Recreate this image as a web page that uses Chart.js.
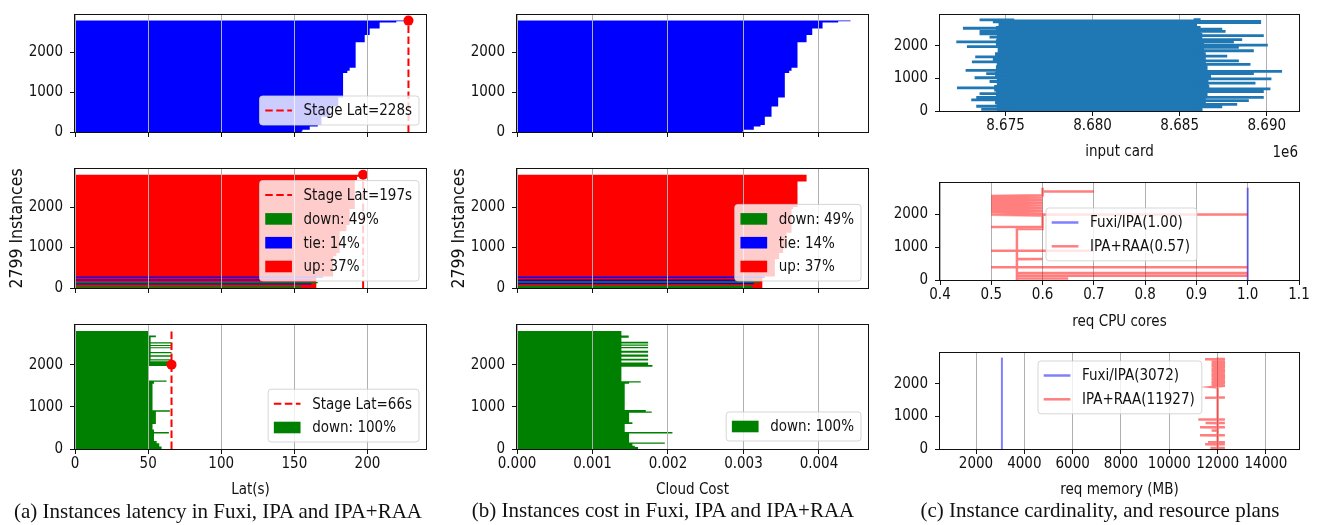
<!DOCTYPE html>
<html>
<head>
<meta charset="utf-8">
<script src="https://cdn.jsdelivr.net/npm/chart.js@4.4.1/dist/chart.umd.min.js"></script>
<style>
  body { margin: 0; background: #fff; width: 1321px; height: 525px; position: relative; overflow: hidden; }
  canvas { position: absolute; }
  .txt { position: absolute; white-space: nowrap; color: #111; transform: translate(-50%, -50%); }
  .cap { font-family: "Liberation Serif", serif; font-size: 21px; }
  .off { font-family: "DejaVu Sans Condensed", "DejaVu Sans", sans-serif; font-size: 15px; transform: translate(-100%, -50%); }
</style>
</head>
<body>
<canvas id="a1"></canvas><canvas id="a2"></canvas><canvas id="a3"></canvas>
<canvas id="b1"></canvas><canvas id="b2"></canvas><canvas id="b3"></canvas>
<canvas id="c1"></canvas><canvas id="c2"></canvas><canvas id="c3"></canvas>
<div class="txt cap" style="left:218px;top:511px">(a) Instances latency in Fuxi, IPA and IPA+RAA</div>
<div class="txt cap" style="left:663px;top:510px">(b) Instances cost in Fuxi, IPA and IPA+RAA</div>
<div class="txt cap" style="left:1100px;top:510px">(c) Instance cardinality, and resource plans</div>
<div class="txt off" style="left:1298px;top:152px">1e6</div>
<script>
// ---- data ----
const N = 2799;            // number of instances
const yTicks = [0, 1000, 2000];
const latTicks = [0, 50, 100, 150, 200];
const costTicks = [0, 0.001, 0.002, 0.003, 0.004];
const cardTicks = [8675000, 8680000, 8685000, 8690000];
const cpuTicks = [0.4, 0.5, 0.6, 0.7, 0.8, 0.9, 1.0, 1.1];
const memTicks = [2000, 4000, 6000, 8000, 10000, 12000, 14000];

const stageLat = [228, 197, 66];
const stageAt = [2799, 2799, 2000];
const stageLabels = ["Stage Lat=228s", "Stage Lat=197s", "Stage Lat=66s"];
const shareLabels = ["down: 49%", "tie: 14%", "up: 37%"];
const raaLabel = "down: 100%";

// Fuxi, sorted instances (step start, value)
const fuxiEdges = [0, 15, 54, 138, 177, 385, 638, 869, 1485, 1538, 1615, 2254, 2438, 2600, 2754, 2785];
const fuxiLat = [154.8, 155.5, 160.5, 166, 168.5, 174.2, 180, 183.3, 186.2, 187.8, 191.9, 198.1, 201.5, 208.3, 219.7, 227.5];
const fuxiCost = [0.002987, 0.003005, 0.003137, 0.003226, 0.003283, 0.003372, 0.00346, 0.003548, 0.003606, 0.003637, 0.003716, 0.003836, 0.003911, 0.004048, 0.004255, 0.004419];

// IPA
const ipaLatEdges = [0, 285, 785, 862, 1400, 1554, 1954, 2669, 2746];
const ipaLat = [165, 176.5, 178.7, 181, 185.6, 187.8, 191.3, 192.9, 197];
const ipaLatDownFrom = [0, 23, 115], ipaLatDownTo = [15, 54, 146], ipaLatDown = [154, 155, 166];
const ipaLatTieFrom = [85, 177, 254], ipaLatTieTo = [115, 215, 285], ipaLatTie = [161.7, 161.7, 169.6];

const ipaCostEdges = [0, 285, 708, 862, 977, 1362, 1954, 2000, 2630];
const ipaCost = [0.00325, 0.003416, 0.003473, 0.003526, 0.00357, 0.003637, 0.003659, 0.003716, 0.003836];
const ipaCostDownFrom = [0, 131], ipaCostDownTo = [54, 169], ipaCostDown = [0.00312, 0.003217];
const ipaCostTieFrom = [92, 169, 246], ipaCostTieTo = [131, 208, 285], ipaCostTie = [0.003137, 0.003129, 0.003283];

// IPA+RAA
const raaLatEdges = [0, 61, 138, 192, 368, 406, 460, 590, 885, 920, 1548, 1595, 1625, 1965, 2080, 2100, 2130, 2190, 2225, 2270, 2300, 2390, 2415, 2440, 2465, 2500, 2530, 2650, 2690];
const raaLat = [59.2, 57.6, 55.8, 54, 64.2, 54, 53, 55.3, 64.9, 53, 54, 62.6, 50.5, 66, 51.5, 66, 51.7, 66, 51.7, 66, 51.7, 66, 51.7, 66, 51.7, 66, 51.7, 55.3, 50.5];
const raaCostEdges = [0, 46, 77, 123, 153, 368, 406, 590, 636, 858, 889, 927, 1548, 1579, 1609, 1950, 1990, 2050, 2100, 2140, 2190, 2240, 2280, 2330, 2390, 2420, 2450, 2480, 2500, 2540, 2640, 2690];
const raaCost = [0.001604, 0.00156, 0.001529, 0.001958, 0.001485, 0.002059, 0.001427, 0.001529, 0.001485, 0.001785, 0.001706, 0.001427, 0.001485, 0.001639, 0.001383, 0.001794, 0.001737, 0.001383, 0.001737, 0.001383, 0.001737, 0.001383, 0.001737, 0.001383, 0.001737, 0.001383, 0.001737, 0.001383, 0.001737, 0.001383, 0.00148, 0.001383];

// input cardinality
const cardCoreEdges = [0, 200, 400, 600, 800, 1000, 1200, 1400, 1600, 1800, 2000, 2200, 2400, 2600];
const cardCoreLo = [8674500, 8674400, 8674450, 8674350, 8674500, 8674400, 8674450, 8674500, 8674400, 8674550, 8674450, 8674500, 8674450, 8674600];
const cardCoreHi = [8686300, 8686500, 8686600, 8686700, 8686650, 8686800, 8686600, 8686500, 8686500, 8686400, 8686400, 8686300, 8686200, 8686000];
const cardLeftInst = [2790, 2728, 2534, 2437, 2359, 2262, 2117, 1971, 1660, 1583, 1505, 1243, 1146, 1019, 903, 709, 534, 417, 340, 146, 49];
const cardLeftVal = [8673511, 8674275, 8672557, 8673511, 8673511, 8674084, 8672176, 8672786, 8673263, 8674275, 8673072, 8672710, 8673893, 8673225, 8674084, 8672214, 8673511, 8673321, 8673034, 8673321, 8673607];
const cardRightInst = [2796, 2745, 2705, 2505, 2437, 2311, 2184, 2117, 2019, 1951, 1845, 1680, 1534, 1427, 1214, 1146, 981, 854, 680, 592, 417, 320, 204, 126, 29];
const cardRightVal = [8686202, 8689675, 8689675, 8687443, 8687634, 8689828, 8688588, 8688111, 8690057, 8688397, 8689256, 8687729, 8688397, 8689065, 8690878, 8689256, 8690267, 8689351, 8690210, 8689828, 8689828, 8688969, 8688302, 8687443, 8686300];
const cardAnchor = [8675500, 8685800];

// resource plans
const cpuFuxi = 1.0, memFuxi = 3072;
const cpuLabels = ["Fuxi/IPA(1.00)", "IPA+RAA(0.57)"];
const memLabels = ["Fuxi/IPA(3072)", "IPA+RAA(11927)"];
const cpuInst = [0, 46, 48, 50, 130, 132, 134, 210, 212, 214, 385, 387, 389, 391, 632, 634, 636, 885, 887, 889, 891, 1545, 1547, 1608, 1610, 1612, 1955, 1975, 1988, 1991,
  2010, 2030, 2052, 2075, 2098, 2120, 2142, 2165, 2188, 2210, 2232, 2255, 2278, 2300, 2322, 2345, 2368, 2390, 2412, 2435, 2458, 2480, 2502, 2525, 2548, 2566, 2680, 2683, 2686, 2799];
const cpuCores = [0.55, 0.55, 0.65, 0.55, 0.55, 1.0, 0.55, 0.55, 1.0, 0.55, 0.55, 0.5, 1.0, 0.55, 0.55, 0.6, 0.55, 0.55, 0.5, 0.7, 0.55, 0.55, 0.6, 0.6, 0.5, 0.6, 0.6, 0.5, 1.0, 0.6,
  0.5, 0.6, 0.5, 0.6, 0.5, 0.6, 0.5, 0.6, 0.5, 0.6, 0.5, 0.6, 0.5, 0.6, 0.5, 0.6, 0.5, 0.6, 0.5, 0.6, 0.5, 0.6, 0.5, 0.6, 0.5, 0.6, 0.6, 0.7, 0.6, 0.6];
const memInst = [0, 25, 28, 31, 34, 140, 143, 146, 149, 200, 203, 206, 209, 415, 418, 421, 424, 560, 563, 566, 660, 663, 666, 669, 790, 793, 796, 799, 900, 903, 906, 909, 1570, 1573, 1576, 1579, 1880,
  1900, 1940, 1980, 2020, 2060, 2100, 2140, 2180, 2220, 2260, 2300, 2340, 2380, 2420, 2460, 2500, 2540, 2580, 2620, 2660, 2700, 2740, 2750, 2755, 2760, 2799];
const memMB = [12000, 12000, 11700, 12300, 12000, 12000, 11480, 12300, 12000, 12000, 11600, 12300, 12000, 12000, 11270, 12300, 12000, 12000, 11750, 12000, 12000, 11270, 12300, 12000, 12000, 11500, 12300, 12000, 12000, 11200, 12300, 12000, 12000, 11480, 12300, 12000, 12000,
  11750, 12300, 11750, 12300, 11750, 12300, 11750, 12300, 11750, 12300, 11750, 12300, 11750, 12300, 11750, 12300, 11750, 12300, 11750, 12300, 11750, 12300, 11480, 12300, 12000, 12000];

// ---- helpers ----
const RED = "#ff0000", BLUE = "#0000ff", GREEN = "#008000", TAB = "#1f77b4";
const FONT = "'DejaVu Sans Condensed', 'DejaVu Sans', sans-serif";
Chart.defaults.font.family = FONT;
Chart.defaults.font.size = 15;
Chart.defaults.color = "#111";

// sorted bars as one stepped outline from x=0
function stepShape(edges, vals) {
  const pts = [{ x: 0, y: edges[0] }];
  edges.forEach((e, i) => pts.push({ x: vals[i], y: e }));
  pts.push({ x: vals[vals.length - 1], y: N }, { x: 0, y: N });
  return pts;
}
function stripeShape(from, to, vals) {
  const pts = [];
  from.forEach((a, i) => {
    pts.push({ x: 0, y: a }, { x: vals[i], y: a }, { x: vals[i], y: to[i] }, { x: 0, y: to[i] }, { x: null, y: to[i] });
  });
  return pts;
}
function bandShape(edges, lo, hi) {
  const pts = [{ x: lo[0], y: edges[0] }];
  edges.forEach((e, i) => pts.push({ x: hi[i], y: e }));
  pts.push({ x: hi[hi.length - 1], y: N }, { x: lo[lo.length - 1], y: N });
  for (let i = edges.length - 1; i >= 1; i--) pts.push({ x: lo[i - 1], y: edges[i] });
  return pts;
}
function spikes(inst, vals, anchor) {
  const pts = [];
  inst.forEach((y, i) => pts.push({ x: vals[i], y }, { x: anchor, y }, { x: null, y }));
  return pts;
}
const fillSet = (data, color) => ({ data, stepped: "after", fill: "shape", backgroundColor: color, borderColor: "rgba(0,0,0,0)", borderWidth: 0, pointRadius: 0 });
const dashSet = (lat) => ({ data: [{ x: lat, y: 0 }, { x: lat, y: N }], borderColor: RED, borderWidth: 2, borderDash: [7.5, 3.5], pointRadius: 0, fill: false });
const dotSet = (lat, at) => ({ data: [{ x: lat, y: at }], showLine: false, pointRadius: 5, pointBackgroundColor: RED, pointBorderColor: RED, pointBorderWidth: 0 });
const pathSet = (xs, ys, color, width) => ({ data: ys.map((y, i) => ({ x: xs[i], y })), borderColor: color, borderWidth: width, pointRadius: 0, fill: false });

function drawLegend(ctx, a, lg) {
  ctx.font = "15px " + FONT;
  const tw = Math.max(...lg.items.map((it) => ctx.measureText(it.text).width));
  const w = 44 + tw + 7, h = 29 + (lg.items.length - 1) * 23.8;
  let x, y;
  if (lg.right != null) { x = a.right - lg.right - w; y = a.bottom - lg.bottom - h; }
  else { x = a.left + lg.left; y = a.top + lg.top; }
  ctx.beginPath();
  if (ctx.roundRect) ctx.roundRect(x, y, w, h, 3); else ctx.rect(x, y, w, h);
  ctx.fillStyle = "rgba(255,255,255,0.8)";
  ctx.fill();
  ctx.strokeStyle = "rgba(204,204,204,0.8)";
  ctx.lineWidth = 1;
  ctx.stroke();
  lg.items.forEach((it, i) => {
    const cy = y + 14.5 + i * 23.8, hx = x + 5.7;
    if (it.kind === "patch") {
      ctx.fillStyle = it.color;
      ctx.fillRect(hx, cy - 5.8, 26.7, 11.6);
    } else {
      ctx.beginPath();
      ctx.setLineDash(it.dash || []);
      ctx.strokeStyle = it.color;
      ctx.lineWidth = it.width;
      ctx.moveTo(hx, cy);
      ctx.lineTo(hx + 26.7, cy);
      ctx.stroke();
      ctx.setLineDash([]);
    }
    ctx.fillStyle = "#111";
    ctx.textAlign = "left";
    ctx.textBaseline = "middle";
    ctx.fillText(it.text, x + 44, cy + 1);
  });
}

const decor = {
  id: "decor",
  afterDraw(chart, args, opts) {
    const { ctx, chartArea: a } = chart;
    ctx.save();
    ctx.strokeStyle = "#111";
    ctx.lineWidth = 1;
    ctx.strokeRect(Math.round(a.left) - 0.5, Math.round(a.top) - 0.5, Math.round(a.right - a.left) + 1, Math.round(a.bottom - a.top) + 1);
    if (opts.legend) drawLegend(ctx, a, opts.legend);
    ctx.restore();
  },
};

function makeChart(id, area, spec) {
  const [L, T, R, B] = area;
  const yW = 68, padT = 12, padR = 26;
  const cv = document.getElementById(id);
  const w = R - L + yW + padR, h = B - T + padT + spec.xH;
  cv.width = w; cv.height = h;
  cv.style.left = L - yW + "px"; cv.style.top = T - padT + "px";
  cv.style.width = w + "px"; cv.style.height = h + "px";
  return new Chart(cv, {
    type: "line",
    data: { datasets: spec.datasets },
    options: {
      indexAxis: "y",
      responsive: false,
      animation: false,
      devicePixelRatio: 1,
      events: [],
      layout: { padding: { left: 0, top: padT, right: padR, bottom: 0 } },
      plugins: { legend: { display: false }, tooltip: { enabled: false }, decor: { legend: spec.legend } },
      scales: {
        x: {
          type: "linear", position: "bottom", min: spec.xMin, max: spec.xMax,
          afterBuildTicks: (s) => { s.ticks = spec.xTicks.map((v) => ({ value: v })); },
          afterFit: (s) => { s.height = spec.xH; },
          ticks: { autoSkip: false, maxRotation: 0, padding: 1, callback: spec.xFmt },
          grid: { color: "#b0b0b0", lineWidth: 1, tickColor: "#111", tickLength: 5, z: spec.gridTop ? 1 : -1 },
          border: { display: false },
          title: spec.xTitle ? { display: true, text: spec.xTitle, padding: 0 } : { display: false },
        },
        y: {
          type: "linear", position: "left", min: 0, max: 2940,
          afterBuildTicks: (s) => { s.ticks = yTicks.map((v) => ({ value: v })); },
          afterFit: (s) => { s.width = yW; },
          ticks: { padding: 7, callback: (v) => String(v) },
          grid: { drawOnChartArea: false, color: "#111", tickColor: "#111", tickLength: 5 },
          border: { display: false },
          title: spec.yTitle ? { display: true, text: spec.yTitle, padding: 0, font: { size: 17.5 } } : { display: false },
        },
      },
    },
    plugins: [decor],
  });
}

const blank = () => "";
const latFmt = (v) => String(v);
const costFmt = (v) => v.toFixed(3);
const dash = (t) => ({ kind: "line", color: RED, width: 2, dash: [7.5, 3.5], text: t });
const patch = (c, t) => ({ kind: "patch", color: c, text: t });
const lineItem = (c, t) => ({ kind: "line", color: c, width: 2.5, text: t });

// ---- column (a): latency ----
makeChart("a1", [75, 11, 426, 138], {
  xMin: 0, xMax: 240, xTicks: latTicks, xFmt: blank, xH: 10, gridTop: true,
  datasets: [dotSet(stageLat[0], stageAt[0]), dashSet(stageLat[0]), fillSet(stepShape(fuxiEdges, fuxiLat), BLUE)],
  legend: { right: 7, bottom: 7, items: [dash(stageLabels[0])] },
});
makeChart("a2", [75, 165, 426, 294], {
  xMin: 0, xMax: 240, xTicks: latTicks, xFmt: blank, xH: 10, gridTop: true, yTitle: "2799 Instances",
  datasets: [dotSet(stageLat[1], stageAt[1]), dashSet(stageLat[1]),
    fillSet(stripeShape(ipaLatDownFrom, ipaLatDownTo, ipaLatDown), GREEN),
    fillSet(stripeShape(ipaLatTieFrom, ipaLatTieTo, ipaLatTie), BLUE),
    fillSet(stepShape(ipaLatEdges, ipaLat), RED)],
  legend: { right: 7, bottom: 7, items: [dash(stageLabels[1]), patch(GREEN, shareLabels[0]), patch(BLUE, shareLabels[1]), patch(RED, shareLabels[2])] },
});
makeChart("a3", [75, 321, 426, 449], {
  xMin: 0, xMax: 240, xTicks: latTicks, xFmt: latFmt, xH: 50, gridTop: true, xTitle: "Lat(s)",
  datasets: [dotSet(stageLat[2], stageAt[2]), dashSet(stageLat[2]), fillSet(stepShape(raaLatEdges, raaLat), GREEN)],
  legend: { right: 7, bottom: 7, items: [dash(stageLabels[2]), patch(GREEN, raaLabel)] },
});

// ---- column (b): cost ----
makeChart("b1", [517, 11, 868, 138], {
  xMin: 0, xMax: 0.00465, xTicks: costTicks, xFmt: blank, xH: 10, gridTop: true,
  datasets: [fillSet(stepShape(fuxiEdges, fuxiCost), BLUE)],
});
makeChart("b2", [517, 165, 868, 294], {
  xMin: 0, xMax: 0.00465, xTicks: costTicks, xFmt: blank, xH: 10, gridTop: true, yTitle: "2799 Instances",
  datasets: [fillSet(stripeShape(ipaCostDownFrom, ipaCostDownTo, ipaCostDown), GREEN),
    fillSet(stripeShape(ipaCostTieFrom, ipaCostTieTo, ipaCostTie), BLUE),
    fillSet(stepShape(ipaCostEdges, ipaCost), RED)],
  legend: { right: 7, bottom: 7, items: [patch(GREEN, shareLabels[0]), patch(BLUE, shareLabels[1]), patch(RED, shareLabels[2])] },
});
makeChart("b3", [517, 321, 868, 449], {
  xMin: 0, xMax: 0.00465, xTicks: costTicks, xFmt: costFmt, xH: 50, gridTop: true, xTitle: "Cloud Cost",
  datasets: [fillSet(stepShape(raaCostEdges, raaCost), GREEN)],
  legend: { right: 7, bottom: 8, items: [patch(GREEN, raaLabel)] },
});

// ---- column (c): cardinality and resource plans ----
makeChart("c1", [940, 11, 1299, 111], {
  xMin: 8671240, xMax: 8691850, xTicks: cardTicks, xFmt: (v) => (v / 1e6).toFixed(3), xH: 50, xTitle: "input card",
  datasets: [
    { ...pathSet([], [], TAB, 2.8), data: spikes(cardLeftInst, cardLeftVal, cardAnchor[0]) },
    { ...pathSet([], [], TAB, 2.8), data: spikes(cardRightInst, cardRightVal, cardAnchor[1]) },
    fillSet(bandShape(cardCoreEdges, cardCoreLo, cardCoreHi), TAB),
  ],
});
makeChart("c2", [940, 179, 1299, 280], {
  xMin: 0.4, xMax: 1.1, xTicks: cpuTicks, xFmt: (v) => v.toFixed(1), xH: 51, xTitle: "req CPU cores",
  datasets: [pathSet(cpuCores, cpuInst, "rgba(255,0,0,0.5)", 2.5), pathSet([cpuFuxi, cpuFuxi], [0, N], "rgba(0,0,255,0.5)", 2)],
  legend: { left: 106, top: 25, items: [lineItem("rgba(0,0,255,0.5)", cpuLabels[0]), lineItem("rgba(255,0,0,0.5)", cpuLabels[1])] },
});
makeChart("c3", [940, 349, 1299, 449], {
  xMin: 510, xMax: 15366, xTicks: memTicks, xFmt: (v) => String(v), xH: 50, xTitle: "req memory (MB)",
  datasets: [pathSet(memMB, memInst, "rgba(255,0,0,0.5)", 2.5), pathSet([memFuxi, memFuxi], [0, N], "rgba(0,0,255,0.5)", 2)],
  legend: { left: 98, top: 8, items: [lineItem("rgba(0,0,255,0.5)", memLabels[0]), lineItem("rgba(255,0,0,0.5)", memLabels[1])] },
});
</script>
</body>
</html>
